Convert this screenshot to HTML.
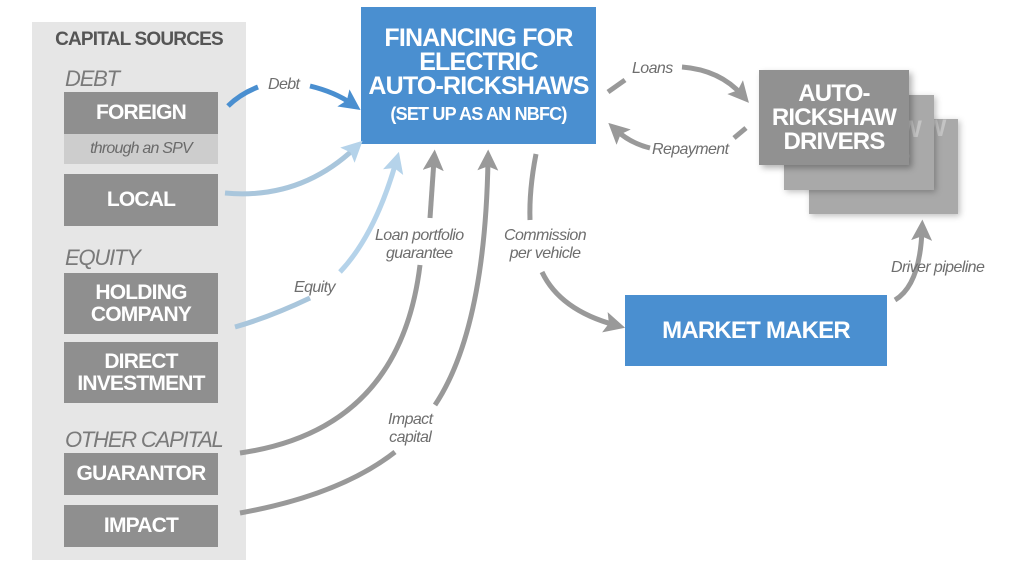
<!DOCTYPE html>
<html><head><meta charset="utf-8"><style>
body{margin:0;width:1024px;height:571px;background:#fff;overflow:hidden;font-family:"Liberation Sans",Arial,sans-serif;position:relative}
.a{position:absolute}
.box{position:absolute;display:flex;align-items:center;justify-content:center;text-align:center;color:#fff;font-weight:bold;letter-spacing:-0.8px}
.g{background:#8f8f8f;font-size:21px;line-height:22px}
.it{position:absolute;font-style:italic;color:#6e6e6e;font-size:16px;line-height:18px;text-align:center;letter-spacing:-0.6px}
.hd{position:absolute;font-style:italic;color:#7a7a7a;font-size:22px;letter-spacing:-1.2px}
</style></head><body>
<div class="a" style="left:32px;top:22px;width:214px;height:538px;background:#e6e6e6"></div>
<div class="a" style="left:32px;top:29px;width:214px;text-align:center;font-weight:bold;font-size:19px;color:#555;letter-spacing:-0.8px">CAPITAL SOURCES</div>
<div class="hd" style="left:65px;top:66px">DEBT</div>
<div class="box g" style="left:64px;top:92px;width:154px;height:42px">FOREIGN</div>
<div class="box" style="left:64px;top:134px;width:154px;height:30px;background:#cdcdcd;color:#6a6a6a;font-weight:normal;font-style:italic;font-size:16px">through an SPV</div>
<div class="box g" style="left:64px;top:174px;width:154px;height:52px">LOCAL</div>
<div class="hd" style="left:65px;top:245px">EQUITY</div>
<div class="box g" style="left:64px;top:273px;width:154px;height:61px">HOLDING<br>COMPANY</div>
<div class="box g" style="left:64px;top:342px;width:154px;height:61px">DIRECT<br>INVESTMENT</div>
<div class="hd" style="left:65px;top:427px">OTHER CAPITAL</div>
<div class="box g" style="left:64px;top:453px;width:154px;height:42px">GUARANTOR</div>
<div class="box g" style="left:64px;top:505px;width:154px;height:42px">IMPACT</div>

<div class="box" style="left:361px;top:7px;width:235px;height:137px;background:#4a8fd0;font-size:25px;line-height:24px;flex-direction:column">FINANCING FOR<br>ELECTRIC<br>AUTO-RICKSHAWS<div style="font-size:18px;margin-top:4px">(SET UP AS AN NBFC)</div></div>

<div class="box" style="left:809px;top:119px;width:149px;height:95px;background:#a9a9a9;box-shadow:2px 2px 6px rgba(0,0,0,.25);font-size:24px;line-height:24px;color:#c4c4c4;overflow:hidden;align-items:flex-start"><div style="margin-top:-2px">RICKSHAW<br>DRIVERS</div></div>
<div class="box" style="left:784px;top:95px;width:150px;height:95px;background:#a9a9a9;box-shadow:2px 2px 6px rgba(0,0,0,.25);font-size:24px;line-height:24px;color:#c4c4c4;overflow:hidden;align-items:flex-start"><div style="margin-top:23px">RICKSHAW<br>DRIVERS</div></div>
<div class="box" style="left:759px;top:70px;width:150px;height:95px;background:#919191;font-size:24px;line-height:24px;box-shadow:3px 3px 6px rgba(0,0,0,.3)">AUTO-<br>RICKSHAW<br>DRIVERS</div>

<div class="box" style="left:625px;top:295px;width:262px;height:71px;background:#4a8fd0;font-size:24px">MARKET MAKER</div>

<svg class="a" style="left:0;top:0" width="1024" height="571">
<defs>
<marker id="mg" viewBox="0 0 10 10" refX="5" refY="5" markerWidth="4.2" markerHeight="4.2" orient="auto"><path d="M0,0L10,5L0,10L2,5z" fill="#999"/></marker>
<marker id="mb" viewBox="0 0 10 10" refX="5" refY="5" markerWidth="4.2" markerHeight="4.2" orient="auto"><path d="M0,0L10,5L0,10L2,5z" fill="#4a8fd0"/></marker>
<marker id="ml" viewBox="0 0 10 10" refX="5" refY="5" markerWidth="4.2" markerHeight="4.2" orient="auto"><path d="M0,0L10,5L0,10L2,5z" fill="#b5d3ea"/></marker>
</defs>
<g fill="none" stroke-width="5" stroke-linecap="butt">
<path d="M228,106 Q240,94 258,87" stroke="#4a8fd0"/>
<path d="M310,86 Q335,92 352,104" stroke="#4a8fd0" marker-end="url(#mb)"/>
<path d="M225,193 Q300,200 355,148" stroke="#a9c6dc" marker-end="url(#ml)"/>
<path d="M235,327 Q270,317 310,298" stroke="#a9c6dc"/>
<path d="M340,272 Q375,235 396,162" stroke="#b5d3ea" marker-end="url(#ml)"/>
<path d="M430,218 L434,160" stroke="#999" marker-end="url(#mg)"/>
<path d="M240,453 Q400,430 420,265" stroke="#999"/>
<path d="M240,513 Q340,495 395,452" stroke="#999"/>
<path d="M435,405 Q485,330 488,160" stroke="#999" marker-end="url(#mg)"/>
<path d="M536,154 Q529,190 530,220" stroke="#999"/>
<path d="M542,272 Q560,310 615,325" stroke="#999" marker-end="url(#mg)"/>
<path d="M608,92 L625,80" stroke="#999"/>
<path d="M682,67 Q720,70 742,95" stroke="#999" marker-end="url(#mg)"/>
<path d="M746,128 L734,138" stroke="#999"/>
<path d="M650,148 Q630,143 616,130" stroke="#999" marker-end="url(#mg)"/>
<path d="M895,300 Q920,285 922,230" stroke="#999" marker-end="url(#mg)"/>
</g>
</svg>
<div class="it" style="left:268px;top:76px">Debt</div>
<div class="it" style="left:632px;top:60px">Loans</div>
<div class="it" style="left:652px;top:141px">Repayment</div>
<div class="it" style="left:375px;top:227px">Loan portfolio<br>guarantee</div>
<div class="it" style="left:504px;top:227px">Commission<br>per vehicle</div>
<div class="it" style="left:294px;top:279px">Equity</div>
<div class="it" style="left:388px;top:411px">Impact<br>capital</div>
<div class="it" style="left:891px;top:259px">Driver pipeline</div>
</body></html>
